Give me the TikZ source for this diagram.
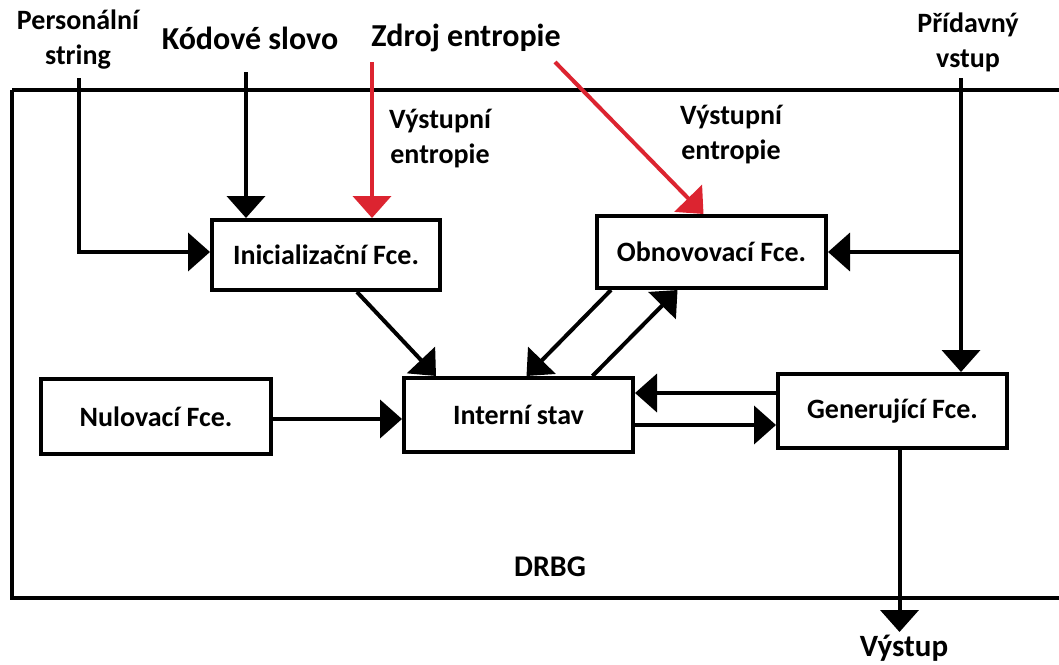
\documentclass[tikz,border=0pt]{standalone}
\usepackage{fontspec}
\setmainfont{Carlito}
\usetikzlibrary{arrows.meta,calc}
\definecolor{entred}{RGB}{220,36,48}
\tikzset{
  blk/.style={draw=black, line width=4pt, minimum width=229pt, minimum height=74pt,
    inner sep=0pt, font=\bfseries\fontsize{28}{32}\selectfont},
  arr/.style={line width=4pt, -{Triangle[length=22pt,width=38pt]}},
  redarr/.style={arr, draw=entred, fill=entred},
  lbl/.style={font=\bfseries\fontsize{28}{35}\selectfont, align=center, inner sep=0pt},
  biglbl/.style={font=\bfseries\fontsize{32}{36}\selectfont, inner sep=0pt}
}
\begin{document}
\begin{tikzpicture}[x=1pt,y=-1pt]
\useasboundingbox (0,0) rectangle (1059,664);
\fill[white] (0,0) rectangle (1059,664);
% DRBG frame (runs past the right edge)
\draw[line width=4pt] (12,90) -- (1080,90) (12,90) -- (12,598) -- (1080,598);
\node[font=\bfseries\fontsize{30}{34}\selectfont, inner sep=0pt] (drbg) at (550,567) {DRBG};

% function blocks
\node[blk, minimum width=228pt, minimum height=70pt] (init) at (326,255) {Inicializační Fce.};
\node[blk, minimum height=72pt] (obn) at (711.5,252) {Obnovovací Fce.};
\node[blk, minimum width=230pt, minimum height=75pt] (nul) at (156,416.5) {Nulovací Fce.};
\node[blk] (int) at (518.5,415) {Interní stav};
\node[blk] (gen) at (892.5,411) {Generující Fce.};

% external labels
\node[lbl] (ps) at (78,40) {Personální\\string};
\node[biglbl] (kod) at (250,38) {Kódové slovo};
\node[biglbl] (zdroj) at (466,38) {Zdroj entropie};
\node[lbl] (pv) at (968,42) {Přídavný\\vstup};
\node[lbl] (ve1) at (440,139) {Výstupní\\entropie};
\node[lbl] (ve2) at (731,135) {Výstupní\\entropie};
\node[font=\bfseries\fontsize{31}{34}\selectfont, inner sep=0pt] (out) at (904,648) {Výstup};

% free ends of incoming lines
\coordinate (psEnd) at (79,78);
\coordinate (kodEnd) at (246,72);
\coordinate (zdA) at (372,62);
\coordinate (zdB) at (555,62);
\coordinate (pvEnd) at (961,78);
\coordinate (yPs) at (0,252);
\coordinate (yHi) at (0,393);
\coordinate (yLo) at (0,425);
\coordinate (yNul) at (0,419);

% inputs of the initialisation block
\draw[arr] (psEnd) |- (init.west |- yPs);
\draw[arr] (kodEnd) -- (kodEnd |- init.north);
\draw[redarr] (zdA) -- (zdA |- init.north);

% entropy into the reseed block
\draw[redarr] (zdB) -- ($(obn.north)+(-8,0)$);

% additional input
\draw[arr] (pvEnd) -- (pvEnd |- gen.north);
\draw[arr] (pvEnd |- obn.east) -- (obn.east);

% state transitions
\draw[arr] ($(init.south)+(31,0)$) -- ($(int.north west)+(34,0)$);
\draw[arr] ($(obn.south west)+(16,0)$) -- ($(int.north)+(8,0)$);
\draw[arr] ($(int.north)+(74,0)$) -- ($(obn.south)+(-34,0)$);
\draw[arr] (nul.east |- yNul) -- (int.west |- yNul);
\draw[arr] (gen.west |- yHi) -- (int.east |- yHi);
\draw[arr] (int.east |- yLo) -- (gen.west |- yLo);

% output
\coordinate (genOut) at ($(gen.south)+(7,0)$);
\coordinate (yOut) at (0,632);
\draw[arr] (genOut) -- (genOut |- yOut);
\end{tikzpicture}
\end{document}
